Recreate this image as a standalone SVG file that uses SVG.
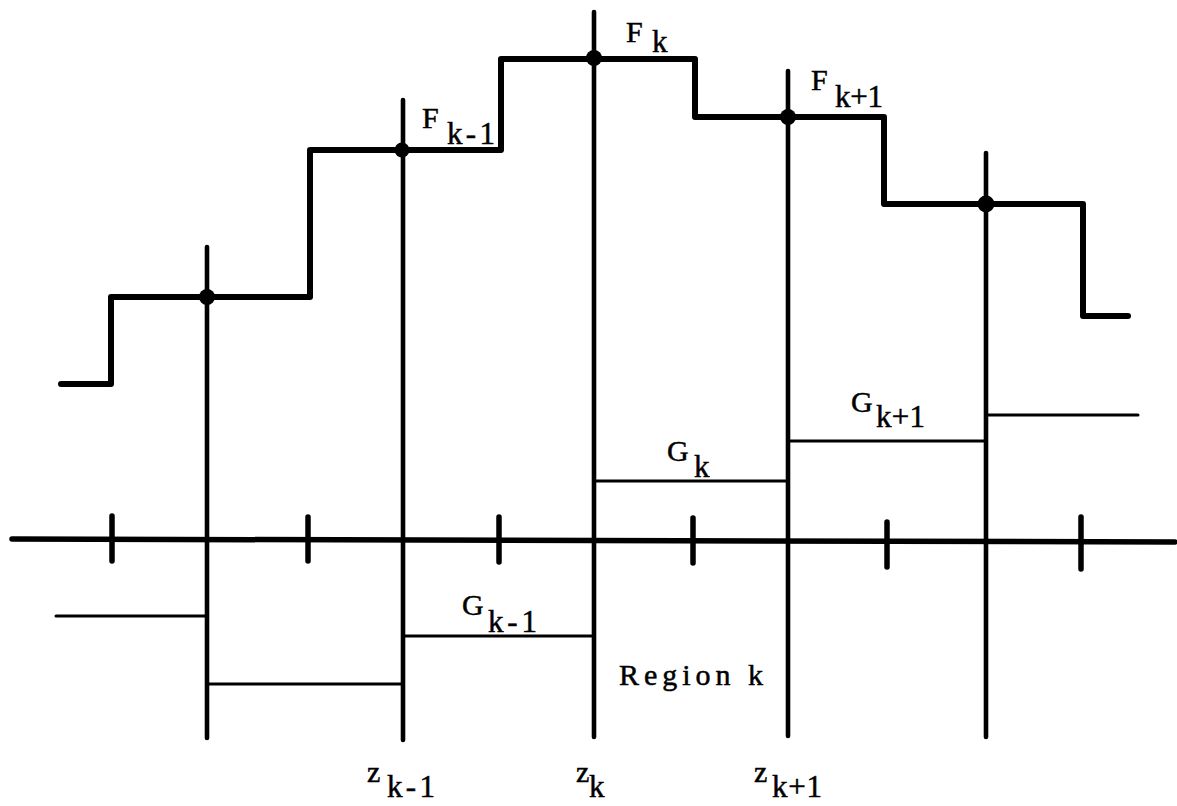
<svg xmlns="http://www.w3.org/2000/svg" width="1177" height="806" viewBox="0 0 1177 806">
<style>
.thick{fill:none;stroke:#000;stroke-width:6;stroke-linecap:round;stroke-linejoin:round}
.axis{fill:none;stroke:#000;stroke-width:5.5;stroke-linecap:round}
.vert{fill:none;stroke:#000;stroke-width:4.6;stroke-linecap:round}
.thin{fill:none;stroke:#000;stroke-width:3;stroke-linecap:round}
.tick{fill:none;stroke:#000;stroke-width:5.5;stroke-linecap:round}
.dot{fill:#000}
</style>
<rect width="1177" height="806" fill="#fff"/>
<g id="axis">
<path class="axis" d="M12 539 L1175 542"/>
<path class="tick" d="M112 516 V561 M308 517 V561 M499 517 V562 M693 518 V563 M887 522 V567 M1081 517 V569"/>
</g>
<g id="verticals">
<path class="vert" d="M207 247 V738"/>
<path class="vert" d="M403 100 V740"/>
<path class="vert" d="M594 12 V737"/>
<path class="vert" d="M788 71 V736"/>
<path class="vert" d="M986 153 V737"/>
</g>
<g id="staircase-F">
<path class="thick" d="M61 384 H111 V297 H310 V150 H501 V59 H695 V117 H884 V204 H1083 V316 H1128"/>
<circle class="dot" cx="207" cy="297" r="8"/>
<circle class="dot" cx="402" cy="150" r="7.5"/>
<circle class="dot" cx="594" cy="58" r="8"/>
<circle class="dot" cx="788" cy="117" r="8"/>
<circle class="dot" cx="986" cy="204" r="8.5"/>
</g>
<g id="staircase-G">
<path class="thin" d="M56 616 H207"/>
<path class="thin" d="M207 684 H402"/>
<path class="thin" d="M403 636 H594"/>
<path class="thin" d="M594 481 H788"/>
<path class="thin" d="M788 441 H986"/>
<path class="thin" d="M986 415 H1138"/>
</g>
<g id="labels" font-family="Liberation Serif, DejaVu Serif, serif" fill="#000" stroke="#000" stroke-width="0.5">
<g font-size="30">
<text x="422" y="128">F</text>
<text x="626" y="42">F</text>
<text x="811" y="90">F</text>
<text x="462" y="615">G</text>
<text x="667" y="461">G</text>
<text x="851" y="412">G</text>
<text x="367" y="782">z</text>
<text x="576" y="782">z</text>
<text x="754" y="782">z</text>
</g>
<g font-size="31">
<text x="447" y="144" textLength="48" lengthAdjust="spacing">k-1</text>
<text x="652" y="52">k</text>
<text x="835" y="107" textLength="48" lengthAdjust="spacing">k+1</text>
<text x="488" y="632" textLength="49" lengthAdjust="spacing">k-1</text>
<text x="694" y="477">k</text>
<text x="876" y="427" textLength="49" lengthAdjust="spacing">k+1</text>
<text x="387" y="797" textLength="48" lengthAdjust="spacing">k-1</text>
<text x="589" y="797">k</text>
<text x="772" y="797" textLength="50" lengthAdjust="spacing">k+1</text>
</g>
<text x="619" y="685" font-size="30" textLength="144" lengthAdjust="spacing">Region  k</text>
</g>
</svg>
